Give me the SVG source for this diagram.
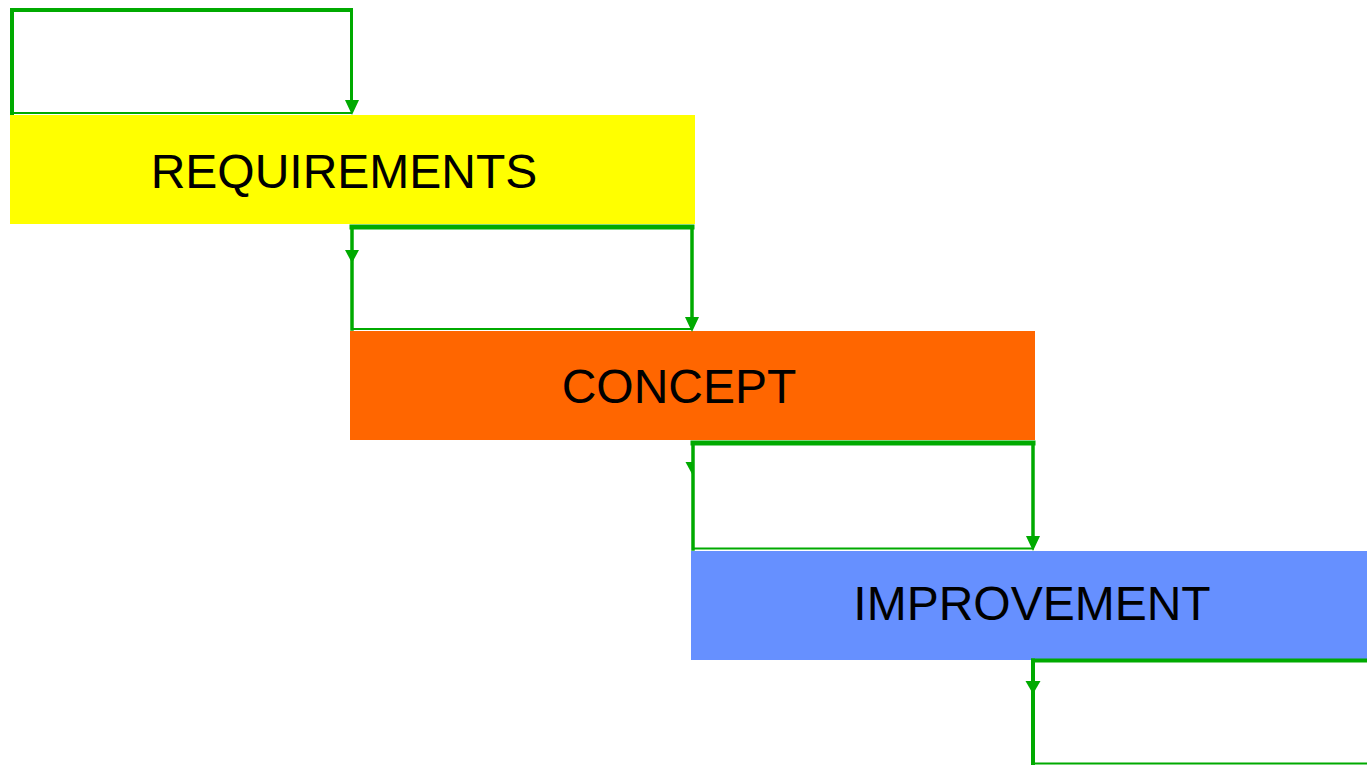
<svg xmlns="http://www.w3.org/2000/svg" width="1367" height="765" viewBox="0 0 1367 765">
<style>
.ln{stroke:#00AA00;fill:none;stroke-linecap:square}
.ah{fill:#00AA00}
.lbl{font-family:"Liberation Sans",Arial,sans-serif;font-size:48px;fill:#000;text-anchor:middle}
</style>
<rect width="1367" height="765" fill="#fff"/>
<g id="requirements">
<rect x="10" y="115" width="685" height="109" fill="#FFFF00"/>
<text class="lbl" x="344" y="188">REQUIREMENTS</text>
</g>
<g id="concept">
<rect x="350" y="331" width="685" height="109" fill="#FF6600"/>
<text class="lbl" x="679" y="403">CONCEPT</text>
</g>
<g id="improvement">
<rect x="691" y="551" width="676" height="109" fill="#6690FF"/>
<text class="lbl" x="1032" y="620">IMPROVEMENT</text>
</g>
<g id="connectors">
<line class="ln" x1="12" y1="113" x2="12" y2="10" stroke-width="4"/>
<line class="ln" x1="12" y1="10" x2="351" y2="10" stroke-width="4"/>
<line class="ln" x1="351.5" y1="10" x2="351.5" y2="102" stroke-width="3"/>
<line class="ln" x1="12" y1="113" x2="351" y2="113" stroke-width="2"/>
<polygon class="ah" points="345,100 359,100 352,115"/>

<line class="ln" x1="352" y1="227" x2="692" y2="227" stroke-width="5"/>
<line class="ln" x1="352" y1="227" x2="352" y2="329" stroke-width="3.5"/>
<line class="ln" x1="692" y1="227" x2="692" y2="320" stroke-width="3.5"/>
<line class="ln" x1="352" y1="329" x2="692" y2="329" stroke-width="2"/>
<polygon class="ah" points="345,250 359,250 352,263"/>
<polygon class="ah" points="685,317 699,317 692,332"/>

<line class="ln" x1="693" y1="443" x2="1033" y2="443" stroke-width="5"/>
<line class="ln" x1="693" y1="443" x2="693" y2="549" stroke-width="3.5"/>
<line class="ln" x1="1033" y1="443" x2="1033" y2="538" stroke-width="3.5"/>
<line class="ln" x1="693" y1="548.5" x2="1033" y2="548.5" stroke-width="2"/>
<polygon class="ah" points="685.5,462 692,462 692,474"/>
<polygon class="ah" points="1026,536 1040,536 1033,551"/>

<line class="ln" x1="1033" y1="660.5" x2="1370" y2="660.5" stroke-width="4"/>
<line class="ln" x1="1033" y1="660.5" x2="1033" y2="763" stroke-width="4"/>
<line class="ln" x1="1033" y1="763.5" x2="1370" y2="763.5" stroke-width="2"/>
<polygon class="ah" points="1025.5,681 1040.5,681 1033,694"/>
</g>
</svg>
